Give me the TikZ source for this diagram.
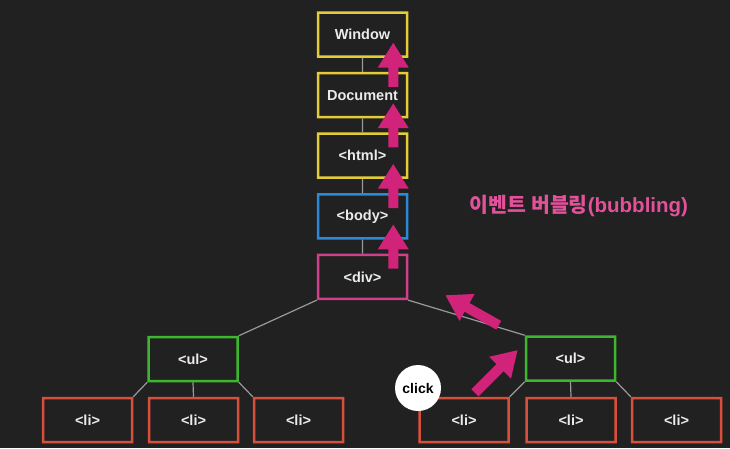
\documentclass[tikz,border=0pt]{standalone}
\usepackage{fontspec}
\setmainfont{Liberation Sans}
\newfontfamily\kor{Noto Sans CJK KR}
\usetikzlibrary{arrows.meta}
\definecolor{bg}{HTML}{212121}
\definecolor{yel}{HTML}{E3CC37}
\definecolor{blu}{HTML}{2A8AD8}
\definecolor{pnk}{HTML}{D0408A}
\definecolor{grn}{HTML}{3DB72F}
\definecolor{red}{HTML}{D8503C}
\definecolor{mag}{HTML}{D1237A}
\definecolor{lbl}{HTML}{E2519A}
\definecolor{wire}{HTML}{9A9A9A}

\begin{document}
\begin{tikzpicture}[x=1pt,y=-1pt]
	\fill[bg] (0,0) rectangle (730,448);
	\useasboundingbox (0,0) rectangle (730,448);
	\begin{scope}[transparency group]
		\tikzstyle{box}=[rectangle,fill=bg,line width=2.5pt,minimum width=89pt,minimum height=44pt,inner sep=0pt,text=white!92!black,font=\bfseries\fontsize{14.5}{17}\selectfont]
		\tikzstyle{link}=[wire,line width=1.2pt]
		\tikzstyle{bubble}=[mag,line width=10pt,-{Triangle[length=25pt,width=29pt]}]
		% column from window down to div
		\foreach \t/\c[count=\a] in {Window/yel,Document/yel,{<html>}/yel,{<body>}/blu,{<div>}/pnk}
		{\node[box,draw=\c] at (362.5,{34.5+60.6*(\a-1)}) (c\a) {\t};}
		\node[box,draw=grn] at (193,359) (ul1) {<ul>};
		\node[box,draw=grn] at (570.5,358.5) (ul2) {<ul>};
		\foreach \x[count=\a] in {87.5,193.5,298.5,464,571,676.5}
		{\node[box,draw=red] at (\x,420) (l\a) {<li>};}
		% tree lines
		\foreach \a[count=\b from 2] in {1,...,4}
		{\draw[link] (c\a.south)--(c\b.north);}
		\draw[link] (c5.south west)--(ul1.north east);
		\draw[link] (c5.south east)--(ul2.north west);
		\draw[link] (ul1.south west)--(l1.north east);
		\draw[link] (ul1.south)--(l2.north);
		\draw[link] (ul1.south east)--(l3.north west);
		\draw[link] (ul2.south west)--(l4.north east);
		\draw[link] (ul2.south)--(l5.north);
		\draw[link] (ul2.south east)--(l6.north west);
		% bubbling arrows
		\foreach \a[count=\b from 2] in {1,...,4}
		{\draw[bubble] ([xshift=-15pt,yshift=-15pt]c\b.north east)--([xshift=-15pt,yshift=-8pt]c\a.east);}
		\draw[bubble] ([xshift=11pt,yshift=4pt]l4.north)--([xshift=-7pt,yshift=8.5pt]ul2.west);
		\draw[bubble] ([xshift=-26pt,yshift=10pt]ul2.north west)--([xshift=37pt,yshift=5pt]c5.south east);
		\node[circle,fill=white,minimum size=46pt,inner sep=0pt,text=black,font=\bfseries\fontsize{14}{16}\selectfont] at (418,388) (click) {click};
		\node[text=lbl,font=\bfseries\fontsize{20.5}{24}\selectfont] at (579,206) (bubbling) {{\kor\bfseries 이벤트 버블링}(bubbling)};
\end{scope}	\end{tikzpicture}
\end{document}
